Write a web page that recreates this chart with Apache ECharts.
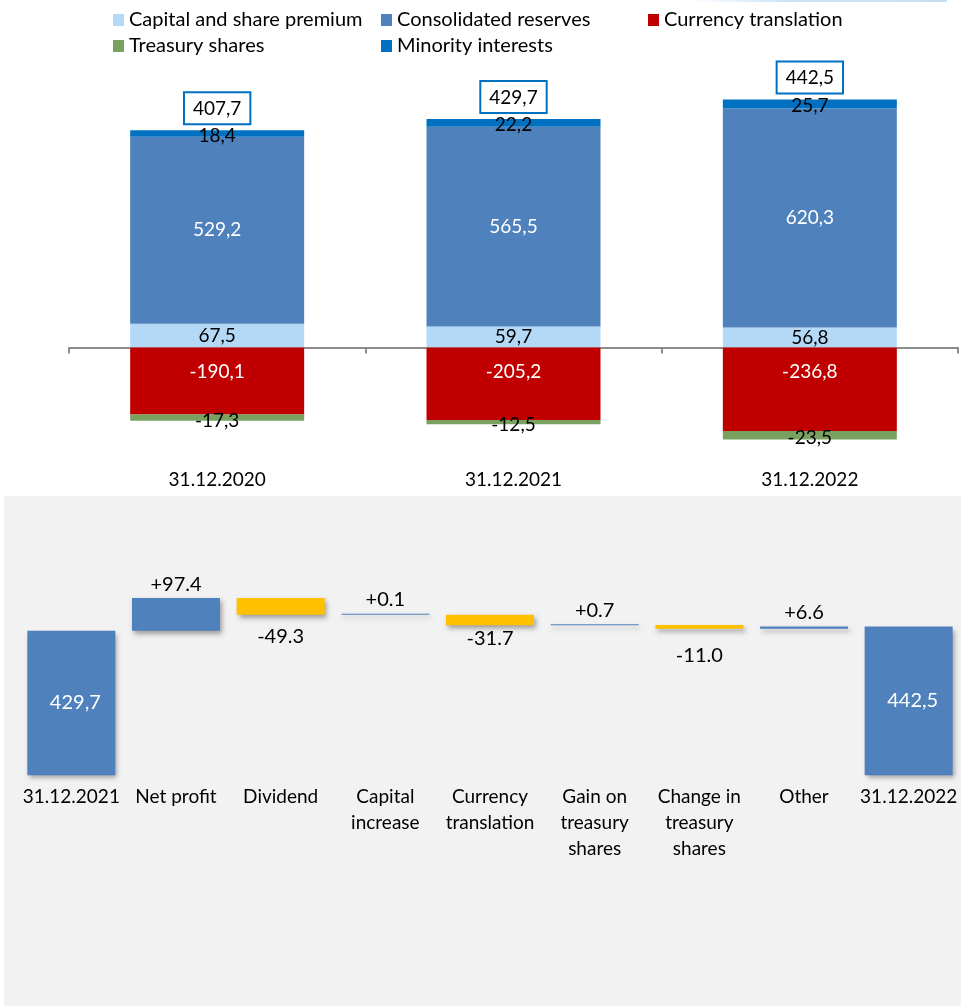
<!DOCTYPE html>
<html>
<head>
<meta charset="utf-8">
<script src="https://cdn.jsdelivr.net/npm/echarts@6/dist/echarts.min.js"></script>
<style>
  html, body { margin: 0; padding: 0; background: #ffffff; }
  #chart { width: 961px; height: 1006px; }
</style>
</head>
<body>
<div id="chart"></div>
<script>
// Equity composition at year end (EUR m)
const years = ['31.12.2020', '31.12.2021', '31.12.2022'];
const capitalPremium = [67.5, 59.7, 56.8];
const consolidatedReserves = [529.2, 565.5, 620.3];
const currencyTranslation = [-190.1, -205.2, -236.8];
const treasuryShares = [-17.3, -12.5, -23.5];
const minorityInterests = [18.4, 22.2, 25.7];

// Equity bridge 31.12.2021 -> 31.12.2022
const bridgeCategories = ['31.12.2021', 'Net profit', 'Dividend', 'Capital\nincrease',
  'Currency\ntranslation', 'Gain on\ntreasury\nshares', 'Change in\ntreasury\nshares',
  'Other', '31.12.2022'];
const openingEquity = 429.7;
const bridgeChanges = [97.4, -49.3, 0.1, -31.7, 0.7, -11.0, 6.6];

const FONT = 'Lato';
const BLUE = '#4F81BD';
const YELLOW = '#FFC000';

const fmtComma = v => v.toFixed(1).replace('.', ',');
const fmtSigned = v => (v > 0 ? '+' : '') + v.toFixed(1);
const round1 = v => Math.round(v * 10) / 10;

// totals for the boxed labels
const positiveTop = years.map((_, i) => round1(capitalPremium[i] + consolidatedReserves[i] + minorityInterests[i]));
const netEquity = years.map((_, i) => round1(capitalPremium[i] + consolidatedReserves[i] + minorityInterests[i]
  + currencyTranslation[i] + treasuryShares[i]));

// waterfall: invisible base + visible step
const wfBase = [0];
const wfBars = [];
let running = openingEquity;
wfBars.push({ value: openingEquity, kind: 'total', shown: openingEquity });
bridgeChanges.forEach(d => {
  const next = round1(running + d);
  wfBase.push(Math.min(running, next));
  wfBars.push({ value: Math.abs(d), kind: d >= 0 ? 'up' : 'down', shown: d });
  running = next;
});
wfBase.push(0);
wfBars.push({ value: running, kind: 'total', shown: running });

// vertical gap of the labels under the falling steps
const downLabelGap = { 2: 12, 4: 3, 6: 17 };

const wfData = wfBars.map((b, i) => {
  const item = { value: b.value, itemStyle: { color: b.kind === 'down' ? YELLOW : BLUE } };
  if (b.kind === 'total') {
    item.label = { show: true, position: 'inside', offset: [4, 0], color: '#ffffff',
      fontSize: 20, formatter: fmtComma(b.shown) };
  } else if (b.kind === 'up') {
    item.label = { show: true, position: 'top', distance: 4, color: '#000000',
      fontSize: 20, formatter: fmtSigned(b.shown) };
  } else {
    item.label = { show: true, position: 'bottom', distance: downLabelGap[i] ?? 8, color: '#000000',
      fontSize: 20, formatter: fmtSigned(b.shown) };
  }
  return item;
});

const segLabel = (color, extra) => Object.assign({
  show: true, position: 'inside', color: color, fontSize: 19, fontFamily: FONT,
  formatter: p => fmtComma(p.value)
}, extra || {});

const legendBase = {
  top: 9, orient: 'vertical', padding: 0, itemGap: 4, itemWidth: 11, itemHeight: 12, icon: 'rect',
  textStyle: { fontSize: 20, lineHeight: 22, color: '#000', fontFamily: FONT }
};

const chart = echarts.init(document.getElementById('chart'), null, { renderer: 'canvas' });

chart.setOption({
  animation: false,
  backgroundColor: '#ffffff',
  textStyle: { fontFamily: FONT },
  graphic: [
    { type: 'rect', z: -10, shape: { x: 4, y: 496, width: 957, height: 510 }, style: { fill: '#F2F2F2' } },
    { type: 'rect', z: -10, shape: { x: 690, y: 0, width: 257, height: 2 },
      style: { fill: new echarts.graphic.LinearGradient(0, 0, 1, 0, [
        { offset: 0, color: 'rgba(197,224,245,0)' }, { offset: 0.4, color: '#C9E2F5' }, { offset: 1, color: '#C5E0F5' }]) } }
  ],
  legend: [
    Object.assign({ left: 113, data: ['Capital and share premium', 'Treasury shares'] }, legendBase),
    Object.assign({ left: 381, data: ['Consolidated reserves', 'Minority interests'] }, legendBase),
    Object.assign({ left: 648, data: ['Currency translation'] }, legendBase)
  ],
  grid: [
    { left: 69, width: 889, top: 82.75, height: 370.65 },
    { left: 19, width: 947, top: 573.6, height: 201.6 }
  ],
  xAxis: [
    { type: 'category', gridIndex: 0, data: years, position: 'bottom',
      axisLine: { onZero: true, lineStyle: { color: '#8C8C8C', width: 2 } },
      axisTick: { show: true, length: 6, lineStyle: { color: '#8C8C8C', width: 2 } },
      axisLabel: { show: false } },
    { type: 'category', gridIndex: 0, data: years, position: 'bottom',
      axisLine: { show: false, onZero: false }, axisTick: { show: false },
      axisLabel: { show: true, margin: 17, fontSize: 19, color: '#000', fontFamily: FONT } },
    { type: 'category', gridIndex: 1, data: bridgeCategories, position: 'bottom',
      axisLine: { show: false }, axisTick: { show: false },
      axisLabel: { show: true, margin: 9, fontSize: 19, lineHeight: 26, color: '#000',
        fontFamily: FONT, interval: 0, align: 'center' } }
  ],
  yAxis: [
    { type: 'value', gridIndex: 0, min: -300, max: 750, show: false, splitLine: { show: false } },
    { type: 'value', gridIndex: 1, min: 0, max: 600, show: false, splitLine: { show: false } }
  ],
  series: [
    { name: 'Capital and share premium', type: 'bar', xAxisIndex: 0, yAxisIndex: 0, stack: 'eq',
      barWidth: 174, data: capitalPremium, itemStyle: { color: '#B3D9F7' },
      label: segLabel('#000000') },
    { name: 'Consolidated reserves', type: 'bar', xAxisIndex: 0, yAxisIndex: 0, stack: 'eq',
      barWidth: 174, data: consolidatedReserves, itemStyle: { color: BLUE },
      label: segLabel('#ffffff') },
    { name: 'Currency translation', type: 'bar', xAxisIndex: 0, yAxisIndex: 0, stack: 'eq',
      barWidth: 174, data: currencyTranslation, itemStyle: { color: '#C00000' },
      label: segLabel('#ffffff', { position: 'insideTop', distance: 15 }) },
    { name: 'Treasury shares', type: 'bar', xAxisIndex: 0, yAxisIndex: 0, stack: 'eq',
      barWidth: 174, data: treasuryShares, itemStyle: { color: '#79A15F' },
      label: segLabel('#000000', { offset: [0, 3] }) },
    { name: 'Minority interests', type: 'bar', xAxisIndex: 0, yAxisIndex: 0, stack: 'eq',
      barWidth: 174, data: minorityInterests, itemStyle: { color: '#0070C0' },
      label: segLabel('#000000', { offset: [0, 2] }) },
    { name: 'Total equity', type: 'scatter', xAxisIndex: 0, yAxisIndex: 0, symbolSize: 0,
      data: positiveTop, z: 5, itemStyle: { opacity: 1 },
      label: { show: true, position: 'top', distance: 7, fontSize: 19, color: '#000000',
        fontFamily: FONT, backgroundColor: '#ffffff', borderColor: '#0070C0', borderWidth: 2,
        padding: [6, 8, 5, 8],
        formatter: p => fmtComma(netEquity[p.dataIndex]) } },
    { name: 'base', type: 'bar', xAxisIndex: 2, yAxisIndex: 1, stack: 'wf', barWidth: 88,
      data: wfBase, itemStyle: { color: 'rgba(0,0,0,0)' }, silent: true, label: { show: false } },
    { name: 'step', type: 'bar', xAxisIndex: 2, yAxisIndex: 1, stack: 'wf', barWidth: 88,
      barMinHeight: 1, data: wfData,
      itemStyle: { shadowColor: 'rgba(0,0,0,0.35)', shadowBlur: 5, shadowOffsetX: 2, shadowOffsetY: 3 },
      label: { fontFamily: FONT } }
  ]
});
</script>
</body>
</html>
